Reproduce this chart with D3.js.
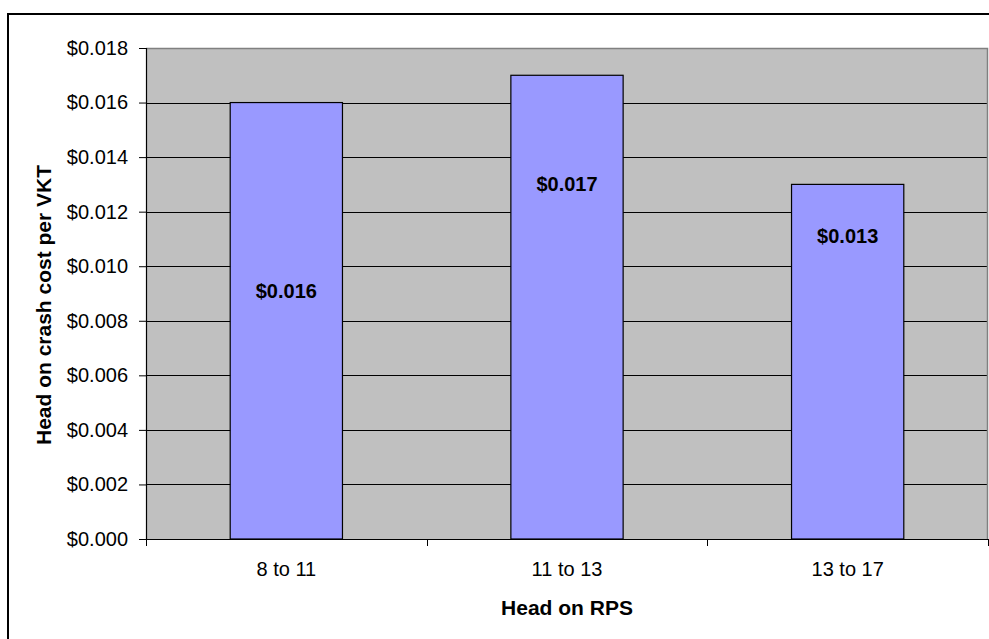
<!DOCTYPE html>
<html>
<head>
<meta charset="utf-8">
<script src="https://cdn.jsdelivr.net/npm/d3@7"></script>
<style>
  html, body { margin: 0; padding: 0; background: #fff; }
  svg { display: block; font-family: "Liberation Sans", Arial, sans-serif; }
</style>
</head>
<body>
<svg id="chart" width="989" height="639"></svg>
<script>
// ---- data ----
const categories = ["8 to 11", "11 to 13", "13 to 17"];
const values = [0.016, 0.017, 0.013];
const valueLabels = ["$0.016", "$0.017", "$0.013"];
// where each data label sits along the value axis (in data units, as placed in the original)
const labelAnchors = [0.0091, 0.0130, 0.0111];
const yTicks = [0, 0.002, 0.004, 0.006, 0.008, 0.010, 0.012, 0.014, 0.016, 0.018];
const xTitle = "Head on RPS";
const yTitle = "Head on crash cost per VKT";

// ---- layout ----
const svg = d3.select("#chart");
const plot = { left: 146, right: 988, top: 48, bottom: 539 };

// outer chart frame (extends past the viewport at right & bottom)
svg.append("rect")
  .attr("x", 8).attr("y", 14)
  .attr("width", 1100).attr("height", 800)
  .attr("fill", "#fff").attr("stroke", "#000").attr("stroke-width", 2);

const x = d3.scaleBand()
  .domain(categories)
  .range([plot.left, plot.right])
  .paddingInner(0.6)
  .paddingOuter(0.3);

const y = d3.scaleLinear()
  .domain([0, 0.018])
  .range([plot.bottom, plot.top]);

// plot area background
svg.append("rect")
  .attr("x", plot.left).attr("y", plot.top)
  .attr("width", plot.right - plot.left).attr("height", plot.bottom - plot.top)
  .attr("fill", "#c0c0c0");

// gridlines
svg.append("g").selectAll("line")
  .data(yTicks.filter(d => d > 0 && d < 0.018))
  .join("line")
  .attr("x1", plot.left).attr("x2", plot.right)
  .attr("y1", d => Math.round(y(d)) + 0.5).attr("y2", d => Math.round(y(d)) + 0.5)
  .attr("stroke", "#000").attr("stroke-width", 1);

// plot area border top/right (gray)
svg.append("path")
  .attr("d", `M${plot.left},${plot.top + 0.5}H${plot.right - 0.5}V${plot.bottom}`)
  .attr("fill", "none").attr("stroke", "#808080").attr("stroke-width", 1.5);

// bars
svg.append("g").selectAll("rect")
  .data(values)
  .join("rect")
  .attr("x", (d, i) => x(categories[i]))
  .attr("y", d => y(d))
  .attr("width", x.bandwidth())
  .attr("height", d => y(0) - y(d))
  .attr("fill", "#9999ff")
  .attr("stroke", "#000").attr("stroke-width", 1.2);

// data labels
svg.append("g").selectAll("text")
  .data(valueLabels)
  .join("text")
  .attr("x", (d, i) => x(categories[i]) + x.bandwidth() / 2)
  .attr("y", (d, i) => y(labelAnchors[i]))
  .attr("dy", "0.35em")
  .attr("text-anchor", "middle")
  .attr("font-size", 20).attr("font-weight", "bold").attr("fill", "#000")
  .text(d => d);

// y axis
const yAxis = svg.append("g")
  .attr("transform", `translate(${plot.left},0)`)
  .call(d3.axisLeft(y).tickValues(yTicks)
    .tickFormat(d => "$" + d.toFixed(3))
    .tickSize(7).tickPadding(11));
yAxis.select(".domain").attr("stroke", "#000").attr("stroke-width", 1.2);
yAxis.selectAll(".tick line").attr("stroke", "#000");
yAxis.selectAll("text").attr("font-size", 20).attr("fill", "#000")
  .attr("font-family", "Liberation Sans, Arial, sans-serif");

// x axis
const xAxis = svg.append("g")
  .attr("transform", `translate(0,${plot.bottom})`)
  .call(d3.axisBottom(x).tickSize(0).tickPadding(23).tickSizeOuter(0));
xAxis.select(".domain").attr("stroke", "#000").attr("stroke-width", 1.2);
xAxis.selectAll("text").attr("font-size", 20).attr("fill", "#000")
  .attr("font-family", "Liberation Sans, Arial, sans-serif");
// category boundary tick marks
const boundaries = d3.range(categories.length + 1).map(i => plot.left + i * x.step());
xAxis.selectAll(".bound")
  .data(boundaries)
  .join("line")
  .attr("class", "bound")
  .attr("x1", d => Math.round(d) + 0.5).attr("x2", d => Math.round(d) + 0.5)
  .attr("y1", 0).attr("y2", 7)
  .attr("stroke", "#000");

// axis titles
svg.append("text")
  .attr("x", (plot.left + plot.right) / 2)
  .attr("y", 615)
  .attr("text-anchor", "middle")
  .attr("font-size", 21).attr("font-weight", "bold")
  .text(xTitle);

svg.append("text")
  .attr("transform", `translate(50.5,305) rotate(-90)`)
  .attr("text-anchor", "middle")
  .attr("font-size", 21).attr("font-weight", "bold")
  .text(yTitle);
</script>
</body>
</html>
